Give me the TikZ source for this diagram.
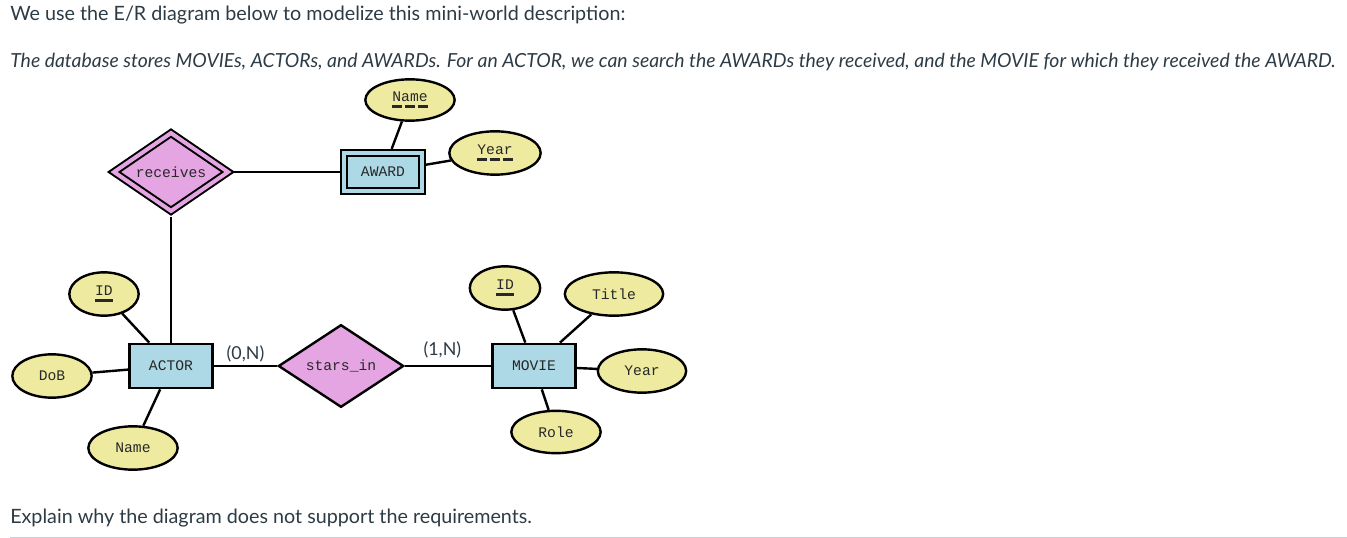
\documentclass[tikz,border=0pt]{standalone}
\usepackage{fontspec}
\setmainfont{Lato}
\newfontfamily\erfont{Liberation Mono}
\usetikzlibrary{shapes.geometric,positioning}

\definecolor{entblue}{RGB}{173,216,230}
\definecolor{relpink}{RGB}{229,165,226}
\definecolor{attryellow}{RGB}{238,235,161}
\definecolor{ertext}{RGB}{40,40,40}
\definecolor{pagetext}{RGB}{45,59,69}
\definecolor{rulegray}{RGB}{199,205,209}

\newsavebox\keybox
\newcommand{\keyattr}[1]{\sbox\keybox{#1}\rlap{\rule[-5pt]{\wd\keybox}{2pt}}\usebox\keybox}
\newcommand{\partkey}[1]{\sbox\keybox{#1}\rlap{\hbox to \wd\keybox{\rule[-5pt]{0.26\wd\keybox}{2pt}\hfill\rule[-5pt]{0.26\wd\keybox}{2pt}\hfill\rule[-5pt]{0.26\wd\keybox}{2pt}}}\usebox\keybox}

\begin{document}
\begin{tikzpicture}[x=0.75pt, y=-0.75pt,
        erbase/.style={draw, line width=1.8pt, inner sep=0pt, text=ertext, font={\erfont\fontsize{11pt}{13pt}\selectfont}},
        entity/.style={erbase, rectangle, fill=entblue, minimum width=62.5pt, minimum height=33.25pt},
        weakentity/.style={entity, line width=1.5pt, double=entblue, double distance=3pt, outer sep=3pt, minimum width=58pt, minimum height=28.75pt},
        rel/.style={erbase, diamond, fill=relpink, minimum width=94pt, minimum height=56.5pt},
        weakrel/.style={rel, line width=1.5pt, double=relpink, double distance=3pt, outer sep=3pt, minimum width=88pt, minimum height=51.25pt},
        attr/.style={erbase, ellipse, fill=attryellow, minimum height=32.5pt},
        conn/.style={line width=1.8pt},
        card/.style={text=pagetext, font=\fontsize{13.4pt}{15pt}\selectfont, inner sep=2pt},
        pagetxt/.style={text=pagetext, inner sep=0pt, font=\fontsize{14.8pt}{17pt}\selectfont}
    ]
    \useasboundingbox (0,0) rectangle (1347,538);

    \node[pagetxt, anchor=base west] (intro) at (10,21) {We use the E/R diagram below to modelize this mini-world description:};
    \node[pagetxt, anchor=base west, font=\fontsize{14.55pt}{17pt}\selectfont\itshape] (spec) at (10,68) {The database stores MOVIEs, ACTORs, and AWARDs. For an ACTOR, we can search the AWARDs they received, and the MOVIE for which they received the AWARD.};
    \node[pagetxt, anchor=base west] (question) at (10,523) {Explain why the diagram does not support the requirements.};
    \draw[rulegray, line width=0.75pt] (10,537) -- (1347,537);

    \node[weakrel] (receives) at (171,172) {receives};
    \node[weakentity] (award) at (383,172) {AWARD};
    \node[attr, minimum width=67pt, minimum height=31pt] (awname) at (410,100) {\partkey{Name}};
    \node[attr, minimum width=68.5pt] (awyear) at (495,153) {\partkey{Year}};

    \node[entity] (actor) at (171,366) {ACTOR};
    \node[attr, minimum width=52pt] (actid) at (104,294) {\keyattr{ID}};
    \node[attr, minimum width=59.5pt] (actdob) at (52,376) {DoB};
    \node[attr, minimum width=67pt] (actname) at (133,448) {Name};

    \node[rel] (starsin) at (341,366) {stars\_in};

    \node[entity] (movie) at (534,366) {MOVIE};
    \node[attr, minimum width=52.75pt] (movid) at (505,288) {\keyattr{ID}};
    \node[attr, minimum width=73.75pt] (movtitle) at (614,294) {Title};
    \node[attr, minimum width=66.25pt] (movyear) at (642,371) {Year};
    \node[attr, minimum width=67pt, minimum height=31.75pt] (movrole) at (556,432) {Role};

    \draw[conn] (receives) -- (award);
    \draw[conn] (receives) -- (actor);
    \draw[conn] (award) -- (awname);
    \draw[conn] (award) -- (awyear);
    \draw[conn] (actor) -- (actid);
    \draw[conn] (actor) -- (actdob);
    \draw[conn] (actor) -- (actname);
    \draw[conn] (movie) -- (movid);
    \draw[conn] (movie) -- (movtitle);
    \draw[conn] (movie) -- (movyear);
    \draw[conn] (movie) -- (movrole);
    \draw[conn] (actor) -- node[card, above, pos=0.5] (cardactor) {(0,N)} (starsin);
    \draw[conn] (starsin) -- node[card, above, pos=0.435, yshift=3pt] (cardmovie) {(1,N)} (movie);
\end{tikzpicture}
\end{document}
